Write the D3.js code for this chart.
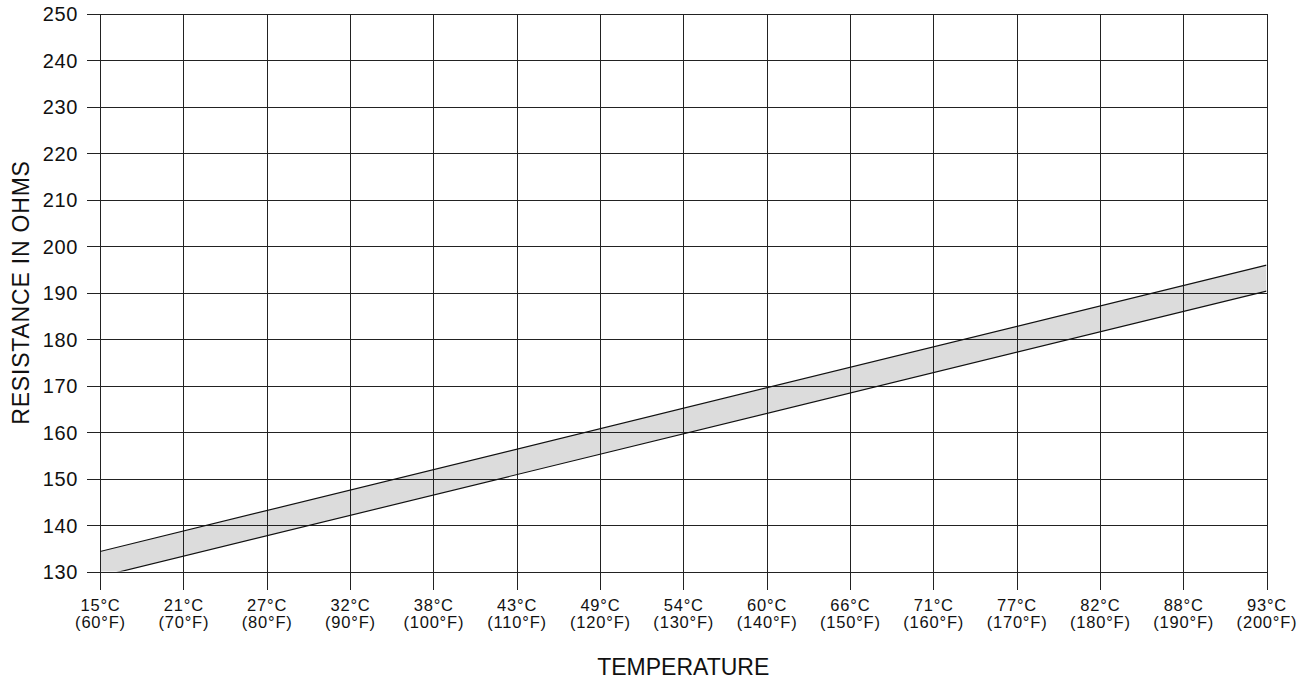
<!DOCTYPE html>
<html>
<head>
<meta charset="utf-8">
<script src="https://cdn.jsdelivr.net/npm/d3@7"></script>
<style>
  body { margin: 0; background: #fff; }
  text { font-family: "Liberation Sans", Arial, sans-serif; fill: #111; }
  .grid line { stroke: #222; stroke-width: 1; shape-rendering: crispEdges; }
  .axis path { display: none; }
  .axis line { stroke: #222; shape-rendering: crispEdges; }
</style>
</head>
<body>
<div id="chart"></div>
<script>
// tick values
var fahrenheit = [60, 70, 80, 90, 100, 110, 120, 130, 140, 150, 160, 170, 180, 190, 200];
var celsius = [15, 21, 27, 32, 38, 43, 49, 54, 60, 66, 71, 77, 82, 88, 93];
var ohmTicks = [130, 140, 150, 160, 170, 180, 190, 200, 210, 220, 230, 240, 250];

// resistance band (upper and lower limits) at the two ends of the range
var bandTemps = [60, 200];
var upperOhms = [134.3, 195.9];
var lowerOhms = [128.9, 190.3];

var width = 1314, height = 683;
var margin = {top: 13.5, right: 47.5, bottom: 111.5, left: 100};
var plotW = width - margin.left - margin.right;
var plotH = height - margin.top - margin.bottom;

var x = d3.scaleLinear().domain([60, 200]).range([0, plotW]);
var y = d3.scaleLinear().domain([130, 250]).range([plotH, 0]);

var svg = d3.select("#chart").append("svg")
    .attr("width", width)
    .attr("height", height);

var g = svg.append("g")
    .attr("transform", "translate(" + margin.left + "," + margin.top + ")");

g.append("clipPath").attr("id", "plot-clip")
  .append("rect")
    .attr("width", plotW)
    .attr("height", plotH);

// band fill first, grid over it
var band = bandTemps.map(function(t, i) {
    return {t: t, hi: upperOhms[i], lo: lowerOhms[i]};
});

var area = d3.area()
    .x(function(d) { return x(d.t); })
    .y0(function(d) { return y(d.lo); })
    .y1(function(d) { return y(d.hi); });

g.append("path")
    .datum(band)
    .attr("clip-path", "url(#plot-clip)")
    .attr("fill", "#dcdcdc")
    .attr("d", area);

// horizontal grid with left ticks
var yAxis = d3.axisLeft(y)
    .tickValues(ohmTicks)
    .tickSize(-plotW)
    .tickSizeOuter(0)
    .tickPadding(0);

var yg = g.append("g")
    .attr("class", "axis grid")
    .call(yAxis);
yg.selectAll(".tick line").attr("x1", -13);
yg.selectAll(".tick text")
    .attr("x", -22)
    .attr("dy", "0.36em")
    .style("font-size", "20px")
    .style("letter-spacing", "0.6px");

// vertical grid with bottom ticks
var xAxis = d3.axisBottom(x)
    .tickValues(fahrenheit)
    .tickSize(-plotH)
    .tickSizeOuter(0)
    .tickFormat("");

var xg = g.append("g")
    .attr("class", "axis grid")
    .attr("transform", "translate(0," + plotH + ")")
    .call(xAxis);
xg.selectAll(".tick line").attr("y1", 18.5);

var labels = xg.selectAll(".tick").append("text")
    .attr("text-anchor", "middle")
    .style("font-size", "16.5px")
    .style("letter-spacing", "0.8px");
labels.append("tspan")
    .attr("x", 0)
    .attr("y", 39.5)
    .text(function(d, i) { return celsius[i] + "\u00b0C"; });
labels.append("tspan")
    .attr("x", 0)
    .attr("y", 56.5)
    .text(function(d) { return "(" + d + "\u00b0F)"; });

// band edges
var upperLine = d3.line()
    .x(function(d) { return x(d.t); })
    .y(function(d) { return y(d.hi); });
var lowerLine = d3.line()
    .x(function(d) { return x(d.t); })
    .y(function(d) { return y(d.lo); });

g.append("path")
    .datum(band)
    .attr("clip-path", "url(#plot-clip)")
    .attr("fill", "none")
    .attr("stroke", "#111")
    .attr("stroke-width", 1.2)
    .attr("d", upperLine);
g.append("path")
    .datum(band)
    .attr("clip-path", "url(#plot-clip)")
    .attr("fill", "none")
    .attr("stroke", "#111")
    .attr("stroke-width", 1.2)
    .attr("d", lowerLine);

// axis titles
svg.append("text")
    .attr("x", margin.left + plotW / 2)
    .attr("y", 675)
    .attr("text-anchor", "middle")
    .style("font-size", "23px")
    .text("TEMPERATURE");

svg.append("text")
    .attr("transform", "translate(29," + (margin.top + plotH / 2) + ") rotate(-90)")
    .attr("text-anchor", "middle")
    .style("font-size", "23px")
    .style("letter-spacing", "0.8px")
    .text("RESISTANCE IN OHMS");
</script>
</body>
</html>
